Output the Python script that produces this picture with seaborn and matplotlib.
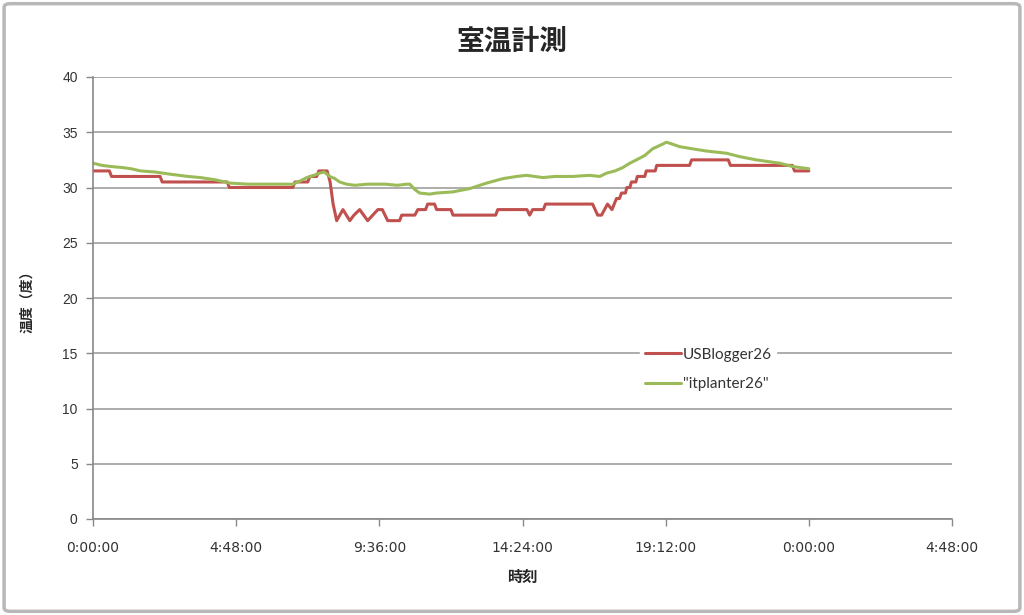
import pandas as pd
import numpy as np
import matplotlib
matplotlib.use('Agg')
import matplotlib.pyplot as plt
from matplotlib.patches import FancyBboxPatch
import seaborn as sns

# Data (time in hours from 0:00, temperature in degrees)
red_name   = 'USBlogger26'
green_name = '"itplanter26"'

red_hours = [0.0, 0.55, 0.62, 2.25, 2.32, 4.5, 4.57, 6.7, 6.77, 7.2, 7.27,
             7.5, 7.57, 7.85, 7.95, 8.05, 8.17, 8.38, 8.61, 8.75, 8.94, 9.21,
             9.55, 9.7, 9.88, 10.28, 10.35, 10.79, 10.89, 11.15, 11.22, 11.45,
             11.52, 12.0, 12.07, 13.5, 13.57, 14.55, 14.64, 14.74, 15.1, 15.17,
             16.75, 16.92, 17.05, 17.25, 17.4, 17.55, 17.65, 17.72, 17.85, 17.9,
             18.0, 18.05, 18.2, 18.25, 18.5, 18.55, 18.85, 18.9, 20.0, 20.07,
             21.3, 21.37, 23.45, 23.52, 24.0]
red_temps = [31.5, 31.5, 31.0, 31.0, 30.5, 30.5, 30.0, 30.0, 30.5, 30.5, 31.0,
             31.0, 31.5, 31.5, 30.5, 28.5, 27.0, 28.0, 27.0, 27.5, 28.0, 27.0,
             28.0, 28.0, 27.0, 27.0, 27.5, 27.5, 28.0, 28.0, 28.5, 28.5,
             28.0, 28.0, 27.5, 27.5, 28.0, 28.0, 27.5, 28.0, 28.0, 28.5,
             28.5, 27.5, 27.5, 28.5, 28.0, 29.0, 29.0, 29.5, 29.5, 30.0,
             30.0, 30.5, 30.5, 31.0, 31.0, 31.5, 31.5, 32.0, 32.0, 32.5,
             32.5, 32.0, 32.0, 31.5, 31.5]

green_hours = [0.0, 0.3, 0.6, 1.0, 1.27, 1.6, 2.08, 2.6, 3.18, 3.6, 4.09,
               4.59, 5.2, 6.0, 6.7, 6.95, 7.17, 7.4, 7.6, 7.75, 7.94, 8.11,
               8.27, 8.5, 8.78, 9.2, 9.8, 10.2, 10.52, 10.62, 10.8, 10.95,
               11.29, 11.52, 12.06, 12.63, 13.2, 13.74, 14.2, 14.54, 15.08,
               15.5, 16.08, 16.65, 16.99, 17.22, 17.5, 17.76, 18.0, 18.22,
               18.5, 18.76, 19.0, 19.23, 19.45, 19.66, 20.1, 20.57, 21.24,
               21.67, 22.24, 23.02, 23.45, 24.0]
green_temps = [32.2, 32.0, 31.9, 31.8, 31.7, 31.5, 31.4, 31.2, 31.0, 30.9, 30.7,
               30.4, 30.3, 30.3, 30.3, 30.6, 30.9, 31.1, 31.3, 31.4, 31.0, 30.8,
               30.5, 30.3, 30.2, 30.3, 30.3, 30.2, 30.3, 30.3, 29.8, 29.5,
               29.4, 29.5, 29.6, 29.9, 30.4, 30.8, 31.0, 31.1, 30.9,
               31.0, 31.0, 31.1, 31.0, 31.3, 31.5, 31.8, 32.2, 32.5,
               32.9, 33.5, 33.8, 34.1, 33.9, 33.7, 33.5, 33.3, 33.1,
               32.8, 32.5, 32.2, 31.9, 31.7]

x_ticks  = [0, 4.8, 9.6, 14.4, 19.2, 24.0, 28.8]
x_labels = ['0:00:00', '4:48:00', '9:36:00', '14:24:00',
            '19:12:00', '0:00:00', '4:48:00']
y_ticks  = [0, 5, 10, 15, 20, 25, 30, 35, 40]

df = pd.concat([
    pd.DataFrame({'hour': red_hours, 'temp': red_temps,
                  'series': red_name}),
    pd.DataFrame({'hour': green_hours, 'temp': green_temps,
                  'series': green_name})
], ignore_index=True)

sns.set_style('white')
cjk = ['Noto Sans CJK JP', 'DejaVu Sans']
plt.rcParams['font.family'] = cjk

fig = plt.figure(figsize=(10.24, 6.15), dpi=100)
ax = fig.add_axes([93/1024, 1-519/615, (952-93)/1024, (519-77)/615])

# Excel-style outer frame
fig.patches.append(FancyBboxPatch(
    (0.004, 0.006), 0.992, 0.988,
    boxstyle='round,pad=0,rounding_size=0.006',
    transform=fig.transFigure, fill=False,
    edgecolor='#b8b8b8', linewidth=2.5))

sns.lineplot(data=df, x='hour', y='temp', hue='series',
             palette={red_name: '#c0504d', green_name: '#9bbb59'},
             estimator=None, sort=False, linewidth=2.2, ax=ax)

ax.set_xlim(0, 28.8)
ax.set_ylim(0, 40)
ax.set_xticks(x_ticks)
ax.set_xticklabels(x_labels, fontsize=10, color='#333333',
                   family=['Liberation Sans Narrow', 'DejaVu Sans'])
ax.set_yticks(y_ticks)
ax.set_yticklabels([str(v) for v in y_ticks], fontsize=10,
                   color='#333333',
                   family=['Liberation Sans', 'DejaVu Sans'])
ax.tick_params(axis='x', direction='out', length=5, width=1,
               color='#888888', pad=11, bottom=True)
ax.tick_params(axis='y', direction='out', length=5, width=1,
               color='#888888', pad=6, left=True)

ax.yaxis.grid(True, color='#a6a6a6', linewidth=1.3)
ax.set_axisbelow(True)
for s in ['top', 'right']:
    ax.spines[s].set_visible(False)
for s in ['left', 'bottom']:
    ax.spines[s].set_color('#888888')
    ax.spines[s].set_linewidth(1.2)

ax.set_xlabel('時刻', fontsize=11, fontweight='bold', labelpad=10)
ax.set_ylabel('温度（度）', fontsize=10, fontweight='bold', labelpad=20)
fig.text(0.5, 0.932, '室温計測', ha='center', va='center',
         fontsize=20, fontweight='bold')

leg = ax.legend(loc='upper left', bbox_to_anchor=(0.628, 0.415),
                frameon=True, fontsize=11, labelspacing=1.0,
                handlelength=2.4, handletextpad=0.1, borderpad=0.3)
leg.get_frame().set_facecolor('white')
leg.get_frame().set_edgecolor('white')
leg.get_frame().set_alpha(1)
for t in leg.get_texts():
    t.set_color('#333333')
    t.set_family(['Lato', 'DejaVu Sans'])

fig.savefig('out.png', dpi=100)
